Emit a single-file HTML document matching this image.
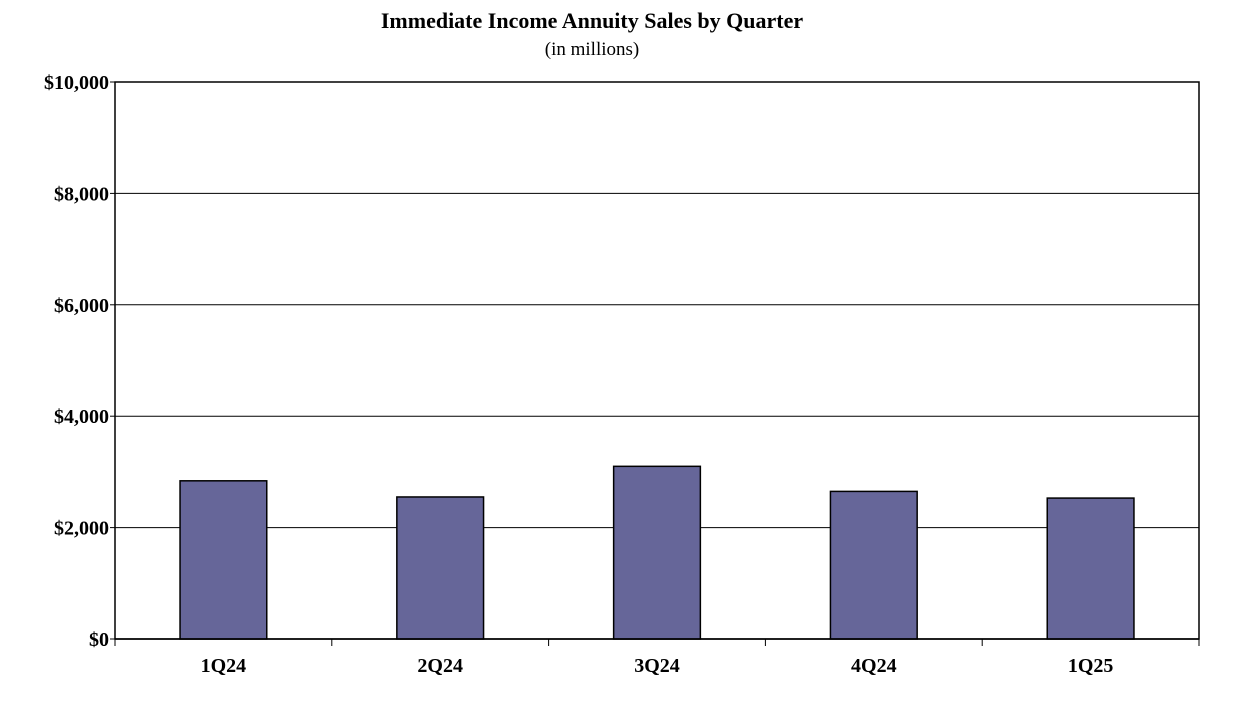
<!DOCTYPE html>
<html><head><meta charset="utf-8"><style>
body{margin:0;background:#fff;}
svg{display:block;font-family:"Liberation Serif",serif;}
</style></head><body>
<svg id="chart" width="1242" height="703">
<text x="592" y="28" text-anchor="middle" font-size="22" font-weight="bold">Immediate Income Annuity Sales by Quarter</text>
<text x="592" y="55" text-anchor="middle" font-size="19">(in millions)</text>
<g id="grid"></g><g id="bars"></g><g id="axes"></g>
</svg>
<script>
const categories=["1Q24","2Q24","3Q24","4Q24","1Q25"];
const values=[2840,2550,3100,2650,2530];
const yTicks=[0,2000,4000,6000,8000,10000];
const yTickLabels=["$0","$2,000","$4,000","$6,000","$8,000","$10,000"];
const L=115,R=1199,T=82,B=639,yMax=10000;
const ns="http://www.w3.org/2000/svg";
function y(v){return B-(v/yMax)*(B-T);}
const bw=(R-L)/categories.length;
function x(i){return L+bw*i;}
function mk(tag,attrs,parent){const e=document.createElementNS(ns,tag);for(const k in attrs)e.setAttribute(k,attrs[k]);parent.appendChild(e);return e;}
const grid=document.getElementById('grid'),bars=document.getElementById('bars'),axes=document.getElementById('axes');
mk('rect',{x:L,y:T,width:R-L,height:B-T,fill:'#fff',stroke:'#000','stroke-width':1.5},grid);
yTicks.forEach((t,i)=>{
  if(t>0&&t<yMax){const g=mk('line',{x1:L,x2:R,y1:y(t),y2:y(t),stroke:'#000','stroke-width':1},grid);
  
  }
  const tk=mk('line',{x1:L-5,x2:L,y1:y(t),y2:y(t),stroke:'#000'},axes);
  
  
  const lb=mk('text',{x:L-6,y:y(t)+7,'text-anchor':'end','font-size':20,'font-weight':'bold'},axes);
  lb.textContent=yTickLabels[i];
  
  
});
categories.forEach((c,i)=>{
  const w=bw*0.4,bx=x(i)+bw*0.3;
  const r=mk('rect',{x:bx,y:y(values[i]),width:w,height:B-y(values[i]),fill:'#666699',stroke:'#000','stroke-width':1.5},bars);
  
  
  const lb=mk('text',{x:x(i)+bw/2,y:672,'text-anchor':'middle','font-size':20,'font-weight':'bold'},axes);
  lb.textContent=c;
  
  
});
for(let i=0;i<=categories.length;i++){
  const tk=mk('line',{x1:x(i),x2:x(i),y1:B,y2:B+7,stroke:'#000'},axes);
  
  
}
const ax=mk('line',{x1:L,x2:R,y1:B,y2:B,stroke:'#000','stroke-width':1.5},axes);


</script>
</body></html>
